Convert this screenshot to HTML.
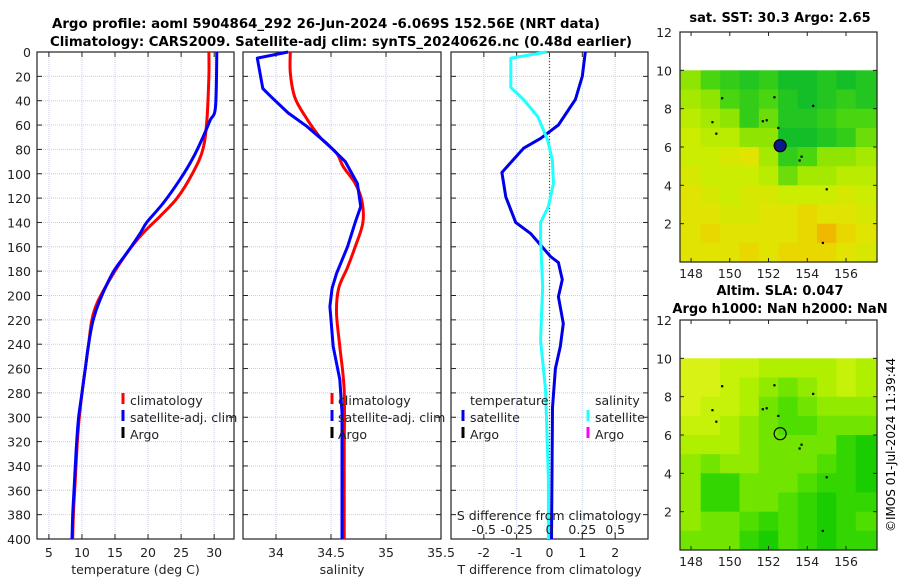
<!DOCTYPE html>
<html><head><meta charset="utf-8"><style>
html,body{margin:0;padding:0;background:#fff;}
svg{display:block;font-family:"DejaVu Sans","Liberation Sans",sans-serif;}
</style></head><body>
<svg id="chart" width="900" height="580" viewBox="0 0 900 580" xmlns="http://www.w3.org/2000/svg">
<text x="52" y="28" font-size="13" font-weight="bold" textLength="548" lengthAdjust="spacingAndGlyphs">Argo profile: aoml 5904864_292 26-Jun-2024 -6.069S 152.56E (NRT data)</text>
<text x="50" y="46" font-size="13" font-weight="bold" textLength="582" lengthAdjust="spacingAndGlyphs">Climatology: CARS2009. Satellite-adj clim: synTS_20240626.nc (0.48d earlier)</text>
<text x="780" y="22" font-size="13" font-weight="bold" text-anchor="middle">sat. SST: 30.3 Argo: 2.65</text>
<text x="780" y="295" font-size="13" font-weight="bold" text-anchor="middle">Altim. SLA: 0.047</text>
<text x="780" y="313" font-size="13" font-weight="bold" text-anchor="middle">Argo h1000: NaN h2000: NaN</text>
<text transform="translate(895,445) rotate(-90)" font-size="12" text-anchor="middle">©IMOS 01-Jul-2024 11:39:44</text>
<g id="g"></g>
</svg>
<script>
// ---- profile data ----
const tClimDepth=[0,20,56,80,99,120,135,149,165,187,206,220,240,260,280,300,320,340,360,380,400];
const tClimVal=[29.2,29.2,28.9,28.3,26.8,24.4,21.8,19.2,16.8,14.2,12.3,11.5,11.0,10.5,10.0,9.6,9.3,9.1,8.9,8.7,8.6];
const tSatDepth=[0,45,56,70,87,105,124,140,149,165,181,204,220,240,260,280,300,320,340,360,380,400];
const tSatVal=[30.4,30.2,29.4,28.3,26.8,24.8,22.3,19.8,18.8,16.8,14.7,12.7,11.7,11.0,10.5,10.0,9.5,9.2,9.0,8.8,8.6,8.5];
const sClimDepth=[0,17,37,52,70,83,94,108,122,140,160,177,194,214,242,278,328,400];
const sClimVal=[34.13,34.13,34.17,34.26,34.40,34.55,34.61,34.72,34.78,34.79,34.72,34.65,34.57,34.55,34.58,34.62,34.62,34.62];
const sSatDepth=[0,5,30,38,50,61,75,90,108,127,140,160,182,194,209,242,269,296,400];
const sSatVal=[34.11,33.83,33.88,33.97,34.11,34.28,34.46,34.63,34.74,34.77,34.72,34.65,34.55,34.51,34.49,34.52,34.58,34.60,34.60];
const dTDepth=[0,20,39,60,71,79,99,119,140,149,168,173,187,201,223,242,260,292,400];
const dTVal=[1.09,1.0,0.79,0.27,-0.27,-0.79,-1.45,-1.33,-1.03,-0.58,0.03,0.27,0.39,0.27,0.42,0.33,0.18,0.09,0.06];
const dSDepth=[0,5,29,39,53,72,89,108,127,140,155,193,214,237,278,351,400];
const dSVal=[-0.022,-0.295,-0.295,-0.198,-0.09,-0.015,0.022,0.03,-0.008,-0.068,-0.068,-0.052,-0.06,-0.068,-0.03,-0.008,-0.008];
const depthTicks=[0,20,40,60,80,100,120,140,160,180,200,220,240,260,280,300,320,340,360,380,400];
const tTicks=[5,10,15,20,25,30];
const sTicks=[34,34.5,35,35.5];
const dTTicks=[-2,-1,0,1,2];
const dSTicks=[-0.5,-0.25,0,0.25,0.5];
// ---- map data (rows lat 10->0, cols lon 147.5->157.5) ----
const sstRows=[
[30.0,29.8,29.7,29.6,29.7,29.5,29.5,29.6,29.5,29.6],
[30.1,30.0,29.8,29.7,29.8,29.6,29.5,29.6,29.7,29.6],
[30.2,30.1,30.0,29.7,29.9,29.6,29.6,29.7,29.8,29.8],
[30.3,30.2,30.2,30.0,30.0,29.5,29.5,29.6,29.7,29.9],
[30.3,30.3,30.4,30.5,30.1,29.7,29.8,30.0,30.0,30.1],
[30.4,30.3,30.3,30.3,30.2,29.9,30.1,30.1,30.2,30.2],
[30.5,30.4,30.3,30.4,30.4,30.3,30.3,30.3,30.4,30.3],
[30.5,30.5,30.4,30.4,30.5,30.5,30.6,30.5,30.5,30.4],
[30.5,30.6,30.5,30.5,30.5,30.5,30.6,30.8,30.6,30.5],
[30.5,30.5,30.5,30.6,30.5,30.6,30.6,30.6,30.5,30.4]];
const slaRows=[
[0.10,0.10,0.09,0.09,0.08,0.08,0.08,0.08,0.09,0.08],
[0.10,0.10,0.09,0.08,0.07,0.06,0.07,0.08,0.09,0.08],
[0.10,0.09,0.09,0.08,0.06,0.05,0.06,0.07,0.07,0.07],
[0.09,0.09,0.08,0.07,0.06,0.05,0.05,0.06,0.06,0.06],
[0.08,0.08,0.08,0.07,0.06,0.06,0.06,0.06,0.04,0.03],
[0.07,0.06,0.07,0.07,0.06,0.06,0.06,0.05,0.04,0.03],
[0.07,0.04,0.04,0.06,0.06,0.06,0.05,0.04,0.04,0.03],
[0.07,0.04,0.04,0.06,0.06,0.05,0.04,0.03,0.04,0.04],
[0.07,0.06,0.06,0.05,0.04,0.05,0.04,0.03,0.04,0.05],
[0.06,0.06,0.06,0.04,0.03,0.05,0.04,0.03,0.04,0.04]];
const lonTicks=[148,150,152,154,156];
const latTicks=[2,4,6,8,10,12];
const argoLon=152.6, argoLat=6.07;

const NS='http://www.w3.org/2000/svg';
const G=document.getElementById('g');
function mk(tag,attrs,parent){const e=document.createElementNS(NS,tag);for(const k in attrs)e.setAttribute(k,attrs[k]);(parent||G).appendChild(e);return e;}
function txt(s,x,y,attrs){const e=mk('text',Object.assign({x:x,y:y,'font-size':12.5,fill:'#222'},attrs||{}));e.textContent=s;return e;}

const TOP=52,BOT=539;
const yD=d=>TOP+d*(BOT-TOP)/400;
function panel(name,x0,x1,v0,v1,xticks,label){
  const xs=v=>x0+(v-v0)*(x1-x0)/(v1-v0);
  const g=mk('g',{});
  
  
  depthTicks.forEach(d=>{if(d>0&&d<400){const l=mk('line',{x1:x0,x2:x1,y1:yD(d),y2:yD(d),stroke:'#c8cfe6','stroke-width':1,'stroke-dasharray':'1,1'},g);}
    mk('line',{x1:x0,x2:x0+5,y1:yD(d),y2:yD(d),stroke:'#222'},g);mk('line',{x1:x1,x2:x1-5,y1:yD(d),y2:yD(d),stroke:'#222'},g);});
  xticks.forEach(v=>{const X=xs(v);const l=mk('line',{x1:X,x2:X,y1:TOP,y2:BOT,stroke:'#c8cfe6','stroke-width':1,'stroke-dasharray':'1,1'},g);
    mk('line',{x1:X,x2:X,y1:BOT,y2:BOT-5,stroke:'#222'},g);mk('line',{x1:X,x2:X,y1:TOP,y2:TOP+5,stroke:'#222'},g);
    const t=txt(String(v),X,BOT+18,{'text-anchor':'middle'});});
  const f=mk('rect',{x:x0,y:TOP,width:x1-x0,height:BOT-TOP,fill:'none',stroke:'#222','stroke-width':1.2},g);
  
  const t=txt(label,(x0+x1)/2,BOT+35,{'text-anchor':'middle'});
  return xs;
}
function line(xs,depths,vals,color,name,smooth){
  const P=depths.map((d,i)=>[xs(vals[i]),yD(d)]);
  let p='M'+P[0][0].toFixed(1)+','+P[0][1].toFixed(1);
  for(let i=0;i<P.length-1;i++){
    if(!smooth){p+=' L'+P[i+1][0].toFixed(1)+','+P[i+1][1].toFixed(1);continue;}
    const a=P[Math.max(0,i-1)],b=P[i],c=P[i+1],d=P[Math.min(P.length-1,i+2)];
    const c1=[b[0]+(c[0]-a[0])/6,b[1]+(c[1]-a[1])/6],c2=[c[0]-(d[0]-b[0])/6,c[1]-(d[1]-b[1])/6];
    p+=' C'+c1.map(v=>v.toFixed(1)).join(',')+' '+c2.map(v=>v.toFixed(1)).join(',')+' '+c[0].toFixed(1)+','+c[1].toFixed(1);
  }
  const e=mk('path',{d:p,fill:'none',stroke:color,'stroke-width':3,'stroke-linejoin':'round'});
  
  
}
function leg(mx,tx,y,color,label,name){
  mk('rect',{x:mx-1.5,y:y-12,width:3,height:11,fill:color});
  const t=txt(label,tx,y);
  
  
}
depthTicks.forEach(d=>{const t=txt(String(d),31,yD(d)+5,{'text-anchor':'end'});});

const xT=panel('temperature-panel',37,234,3.2,33.0,tTicks,'temperature (deg C)');
line(xT,tClimDepth,tClimVal,'#ff0000','temp-climatology-line',true);
line(xT,tSatDepth,tSatVal,'#0000ff','temp-satellite-line',true);
leg(123,130,405,'#ff0000','climatology','legend-climatology');
leg(123,130,422,'#0000ff','satellite-adj. clim','legend-satellite');
leg(123,130,439,'#000','Argo','legend-argo');

const xS=panel('salinity-panel',243,441,33.70,35.5,sTicks,'salinity');
line(xS,sClimDepth,sClimVal,'#ff0000','sal-climatology-line',true);
line(xS,sSatDepth,sSatVal,'#0000ff','sal-satellite-line',false);
leg(332,338,405,'#ff0000','climatology','legend-climatology-s');
leg(332,338,422,'#0000ff','satellite-adj. clim','legend-satellite-s');
leg(332,338,439,'#000','Argo','legend-argo-s');

const xDT=panel('difference-panel',451,648,-3,3,dTTicks,'T difference from climatology');
const xDS=v=>xDT(v*4);
const z=mk('line',{x1:xDT(0),x2:xDT(0),y1:TOP,y2:BOT,stroke:'#336633','stroke-width':1.2,'stroke-dasharray':'1,2'});

line(xDT,dTDepth,dTVal,'#0000e6','temp-difference-line',false);
line(xDS,dSDepth,dSVal,'#22ffff','sal-difference-line',false);
{const t=txt('temperature',470,405);}
{const t=txt('salinity',595,405);}
leg(463,470,422,'#0000e6','satellite','legend-temp-satellite');
leg(463,470,439,'#000','Argo','legend-temp-argo');
leg(588,595,422,'#22ffff','satellite','legend-sal-satellite');
leg(588,595,439,'#ff00ff','Argo','legend-sal-argo');
{const t=txt('S difference from climatology',549,520,{'text-anchor':'middle'});}
dSTicks.forEach(v=>{const t=txt(String(v),xDS(v),534,{'text-anchor':'middle'});});

// ---- maps ----
function lerpC(a,b,t){return 'rgb('+a.map((c,i)=>Math.round(c+(b[i]-c)*t)).join(',')+')';}
function ramp(stops,t){t=Math.max(0,Math.min(1,t));const n=stops.length-1;const i=Math.min(n-1,Math.floor(t*n));return lerpC(stops[i],stops[i+1],t*n-i);}
const sstStops=[[20,190,40],[60,210,20],[150,230,0],[200,238,0],[230,225,0],[240,185,0]];
const slaStops=[[25,205,0],[70,220,0],[130,232,0],[185,240,0],[215,242,20]];
function map(name,x0,x1,top,bot,rows,vmin,vmax,stops,filled){
  const lon0=147.43,lon1=157.6;
  const xs=l=>x0+(l-lon0)*(x1-x0)/(lon1-lon0);
  const ys=l=>bot-l*(bot-top)/12;
  const g=mk('g',{});
  
  
  rows.forEach((r,i)=>r.forEach((v,j)=>{
    const la=10-i, lo=147.5+j;
    const X0=j===0?x0:xs(lo), X1=j===9?x1:xs(lo+1);
    const c=mk('rect',{x:X0.toFixed(1),y:ys(la).toFixed(1),width:(X1-X0+0.6).toFixed(1),height:(ys(la-1)-ys(la)+0.6).toFixed(1),fill:ramp(stops,(v-vmin)/(vmax-vmin))},g);
    
    
  }));
  [[149.6,8.55],[152.3,8.6],[154.3,8.15],[151.7,7.35],[151.9,7.4],[149.1,7.3],[149.3,6.7],[153.7,5.5],[153.6,5.3],[155,3.8],[154.8,1.0],[152.5,7.0]].forEach(p=>{
    mk('rect',{x:xs(p[0])-1,y:ys(p[1])-1,width:2.2,height:2.2,fill:'#000'},g);});
  const m=mk('circle',{cx:xs(argoLon),cy:ys(argoLat),r:6,fill:filled?'#0a1a8a':'none',stroke:'#000','stroke-width':1.2},g);
  
  latTicks.forEach(v=>{const Y=ys(v);mk('line',{x1:x0,x2:x0+4,y1:Y,y2:Y,stroke:'#222'},g);mk('line',{x1:x1,x2:x1-4,y1:Y,y2:Y,stroke:'#222'},g);
    const t=txt(String(v),672,Y+5,{'text-anchor':'end'});});
  lonTicks.forEach(v=>{const X=xs(v);mk('line',{x1:X,x2:X,y1:bot,y2:bot-4,stroke:'#222'},g);mk('line',{x1:X,x2:X,y1:top,y2:top+4,stroke:'#222'},g);
    const t=txt(String(v),X,bot+16,{'text-anchor':'middle'});});
  const f=mk('rect',{x:x0,y:top,width:x1-x0,height:bot-top,fill:'none',stroke:'#222','stroke-width':1.2},g);
  
}
map('sst-map',680,877,32,262,sstRows,29.5,30.8,sstStops,true);
map('sla-map',680,877,320,550,slaRows,0.03,0.10,slaStops,false);
</script>
</body></html>
